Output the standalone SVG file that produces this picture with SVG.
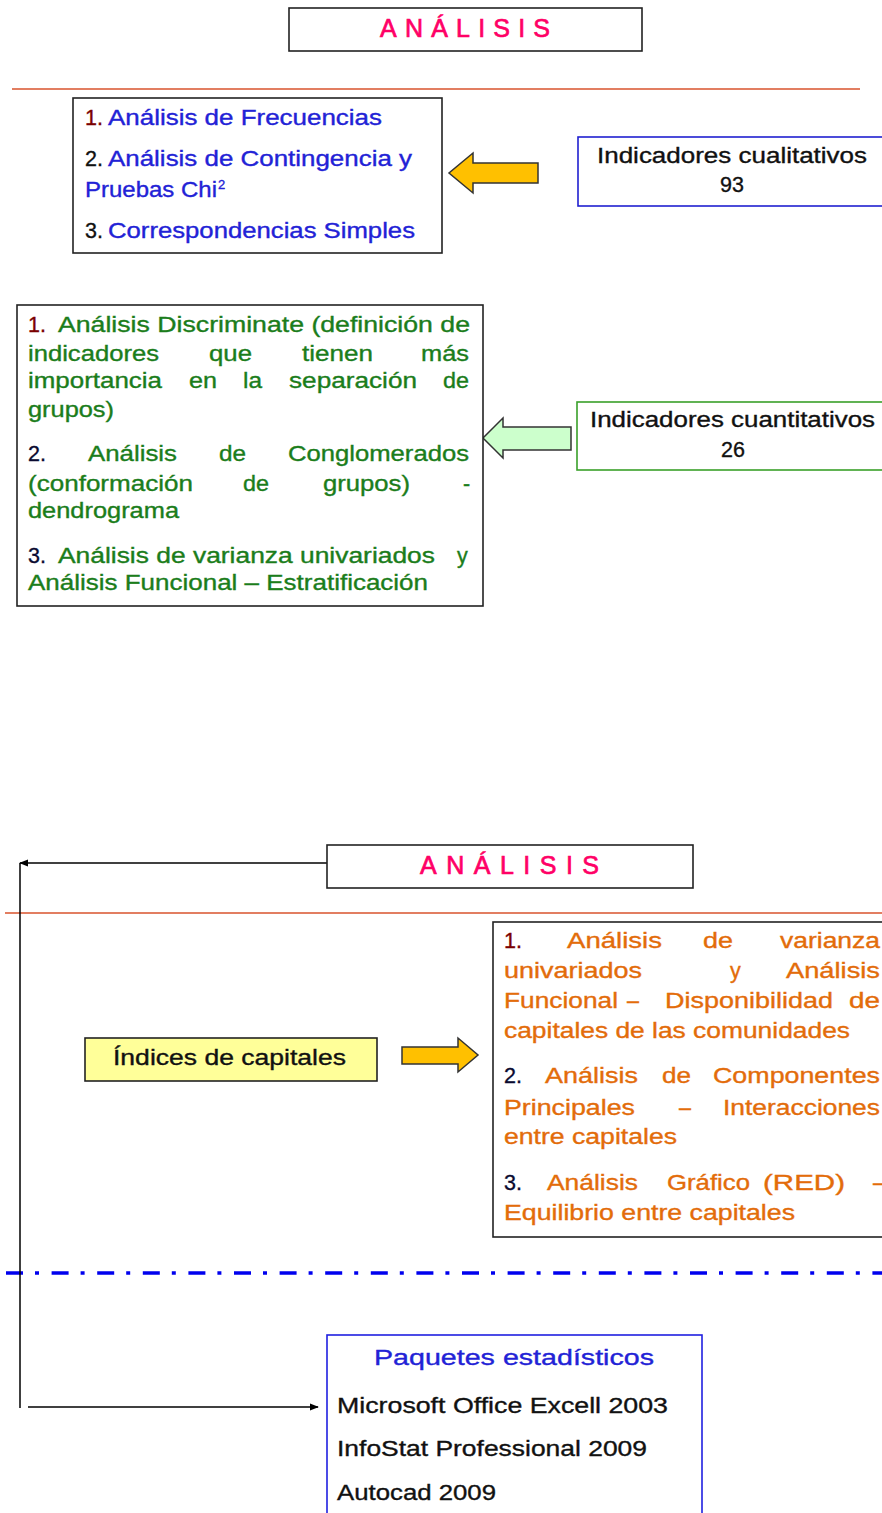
<svg xmlns="http://www.w3.org/2000/svg" width="882" height="1513" viewBox="0 0 882 1513">
<defs>
<style>
text{font-family:"Liberation Sans",Arial,sans-serif;font-size:21.5px;stroke-width:0.35px}
.box{fill:#fff;stroke:#222;stroke-width:1.6}
.title{font-size:25px;fill:#ff0066;stroke:#ff0066;stroke-width:0.7px}
.bl{fill:#2222d6;stroke:#2222d6}
.gr{fill:#1b7d1b;stroke:#1b7d1b}
.or{fill:#e36c0a;stroke:#e36c0a}
.n1{fill:#7a0000;stroke:#7a0000}
.n2{fill:#0a0a30;stroke:#0a0a30}
.k{fill:#111;stroke:#111}
.sep{stroke:#d9532c;stroke-width:1.6}
.conn{stroke:#000;stroke-width:1.5;fill:none}
</style>
<marker id="ah" viewBox="0 0 10 10" refX="9" refY="5" markerWidth="6" markerHeight="6" orient="auto-start-reverse">
<path d="M0,1 L10,5 L0,9 z" fill="#000"/>
</marker>
</defs>

<line class="sep" x1="12" y1="89" x2="860" y2="89"/>
<line class="sep" x1="5" y1="913" x2="882" y2="913"/>
<line x1="6" y1="1273" x2="882" y2="1273" stroke="#0000ee" stroke-width="3.6" stroke-dasharray="17 12 4 12.6"/>

<g id="connectors">
<polyline class="conn" points="327,863 20,863" marker-end="url(#ah)"/>
<line class="conn" x1="20" y1="863" x2="20" y2="1408"/>
<line class="conn" x1="28" y1="1407" x2="318" y2="1407" marker-end="url(#ah)"/>
<path id="arrow-yellow-1" d="M538,163 L473,163 L473,153 L449,173 L473,193 L473,183 L538,183 Z" fill="#ffc000" stroke="#333" stroke-width="1.5"/>
<path id="arrow-green" d="M571,427 L503,427 L503,418 L483,438 L503,458 L503,450 L571,450 Z" fill="#ccffcc" stroke="#333" stroke-width="1.5"/>
<path id="arrow-yellow-2" d="M402,1047 L458,1047 L458,1038 L478,1055 L458,1072 L458,1064 L402,1064 Z" fill="#ffc000" stroke="#333" stroke-width="1.5"/>
</g>

<g id="title1">
<rect class="box" x="289" y="8" width="353" height="43" stroke-width="2"/>
<text class="title" x="380" y="37" textLength="170" lengthAdjust="spacing">ANÁLISIS</text>
</g>

<g id="box-cualitativo-metodos">
<rect class="box" x="73" y="98" width="369" height="155"/>
<text class="n1" x="85" y="125">1.</text>
<text class="bl" x="108" y="125" textLength="274" lengthAdjust="spacingAndGlyphs">Análisis de Frecuencias</text>
<text class="k" x="85" y="166">2.</text>
<text class="bl" x="108" y="166" textLength="304" lengthAdjust="spacingAndGlyphs">Análisis de Contingencia y</text>
<text class="bl" x="85" y="197" textLength="132" lengthAdjust="spacingAndGlyphs">Pruebas Chi</text>
<text class="bl" x="218" y="189" style="font-size:13px">2</text>
<text class="k" x="85" y="238">3.</text>
<text class="bl" x="108" y="238" textLength="307" lengthAdjust="spacingAndGlyphs">Correspondencias Simples</text>
</g>

<g id="box-cualitativos">
<rect x="578" y="137" width="320" height="69" fill="#fff" stroke="#2020d0" stroke-width="1.6"/>
<text class="k" x="597" y="163" textLength="270" lengthAdjust="spacingAndGlyphs">Indicadores cualitativos</text>
<text class="k" x="732" y="192" text-anchor="middle">93</text>
</g>

<g id="box-cuantitativo-metodos">
<rect class="box" x="17" y="305" width="466" height="301"/>
<text class="n1" x="28" y="332">1.</text>
<text class="gr" x="58" y="332" textLength="412" lengthAdjust="spacingAndGlyphs">Análisis Discriminate (definición de</text>
<text class="gr" x="28" y="361" textLength="131" lengthAdjust="spacingAndGlyphs">indicadores</text>
<text class="gr" x="209" y="361" textLength="43" lengthAdjust="spacingAndGlyphs">que</text>
<text class="gr" x="302" y="361" textLength="71" lengthAdjust="spacingAndGlyphs">tienen</text>
<text class="gr" x="421" y="361" textLength="48" lengthAdjust="spacingAndGlyphs">más</text>
<text class="gr" x="28" y="388" textLength="134" lengthAdjust="spacingAndGlyphs">importancia</text>
<text class="gr" x="189" y="388" textLength="28" lengthAdjust="spacingAndGlyphs">en</text>
<text class="gr" x="243" y="388" textLength="19" lengthAdjust="spacingAndGlyphs">la</text>
<text class="gr" x="289" y="388" textLength="128" lengthAdjust="spacingAndGlyphs">separación</text>
<text class="gr" x="443" y="388" textLength="26" lengthAdjust="spacingAndGlyphs">de</text>
<text class="gr" x="28" y="417" textLength="86" lengthAdjust="spacingAndGlyphs">grupos)</text>
<text class="n2" x="28" y="461">2.</text>
<text class="gr" x="88" y="461" textLength="89" lengthAdjust="spacingAndGlyphs">Análisis</text>
<text class="gr" x="219" y="461" textLength="27" lengthAdjust="spacingAndGlyphs">de</text>
<text class="gr" x="288" y="461" textLength="181" lengthAdjust="spacingAndGlyphs">Conglomerados</text>
<text class="gr" x="28" y="491" textLength="165" lengthAdjust="spacingAndGlyphs">(conformación</text>
<text class="gr" x="243" y="491" textLength="26" lengthAdjust="spacingAndGlyphs">de</text>
<text class="gr" x="323" y="491" textLength="87" lengthAdjust="spacingAndGlyphs">grupos)</text>
<text class="gr" x="463" y="491">-</text>
<text class="gr" x="28" y="518" textLength="151" lengthAdjust="spacingAndGlyphs">dendrograma</text>
<text class="n2" x="28" y="563">3.</text>
<text class="gr" x="58" y="563" textLength="377" lengthAdjust="spacingAndGlyphs">Análisis de varianza univariados</text>
<text class="gr" x="457" y="563">y</text>
<text class="gr" x="28" y="590" textLength="400" lengthAdjust="spacingAndGlyphs">Análisis Funcional – Estratificación</text>
</g>

<g id="box-cuantitativos">
<rect x="577" y="402" width="320" height="68" fill="#fff" stroke="#3aa02a" stroke-width="1.6"/>
<text class="k" x="590" y="427" textLength="285" lengthAdjust="spacingAndGlyphs">Indicadores cuantitativos</text>
<text class="k" x="733" y="457" text-anchor="middle">26</text>
</g>

<g id="title2">
<rect class="box" x="327" y="845" width="366" height="43" stroke-width="2"/>
<text class="title" x="420" y="874" textLength="179" lengthAdjust="spacing">ANÁLISIS</text>
</g>

<g id="box-indices">
<rect x="85" y="1038" width="292" height="43" fill="#ffff99" stroke="#222" stroke-width="1.6"/>
<text class="k" x="113" y="1065" textLength="233" lengthAdjust="spacingAndGlyphs">Índices de capitales</text>
</g>

<g id="box-capitales-metodos">
<rect class="box" x="493" y="922" width="400" height="315"/>
<text class="n1" x="504" y="948">1.</text>
<text class="or" x="567" y="948" textLength="95" lengthAdjust="spacingAndGlyphs">Análisis</text>
<text class="or" x="703" y="948" textLength="30" lengthAdjust="spacingAndGlyphs">de</text>
<text class="or" x="780" y="948" textLength="100" lengthAdjust="spacingAndGlyphs">varianza</text>
<text class="or" x="504" y="978" textLength="138" lengthAdjust="spacingAndGlyphs">univariados</text>
<text class="or" x="730" y="978">y</text>
<text class="or" x="786" y="978" textLength="94" lengthAdjust="spacingAndGlyphs">Análisis</text>
<text class="or" x="504" y="1008" textLength="114" lengthAdjust="spacingAndGlyphs">Funcional</text>
<text class="or" x="627" y="1008">–</text>
<text class="or" x="665" y="1008" textLength="168" lengthAdjust="spacingAndGlyphs">Disponibilidad</text>
<text class="or" x="849" y="1008" textLength="31" lengthAdjust="spacingAndGlyphs">de</text>
<text class="or" x="504" y="1038" textLength="346" lengthAdjust="spacingAndGlyphs">capitales de las comunidades</text>
<text class="n2" x="504" y="1083">2.</text>
<text class="or" x="545" y="1083" textLength="93" lengthAdjust="spacingAndGlyphs">Análisis</text>
<text class="or" x="662" y="1083" textLength="29" lengthAdjust="spacingAndGlyphs">de</text>
<text class="or" x="713" y="1083" textLength="167" lengthAdjust="spacingAndGlyphs">Componentes</text>
<text class="or" x="504" y="1115" textLength="131" lengthAdjust="spacingAndGlyphs">Principales</text>
<text class="or" x="679" y="1115">–</text>
<text class="or" x="723" y="1115" textLength="157" lengthAdjust="spacingAndGlyphs">Interacciones</text>
<text class="or" x="504" y="1144" textLength="173" lengthAdjust="spacingAndGlyphs">entre capitales</text>
<text class="n2" x="504" y="1190">3.</text>
<text class="or" x="547" y="1190" textLength="91" lengthAdjust="spacingAndGlyphs">Análisis</text>
<text class="or" x="667" y="1190" textLength="83" lengthAdjust="spacingAndGlyphs">Gráfico</text>
<text class="or" x="763" y="1190" textLength="82" lengthAdjust="spacingAndGlyphs">(RED)</text>
<text class="or" x="873" y="1190">–</text>
<text class="or" x="504" y="1220" textLength="291" lengthAdjust="spacingAndGlyphs">Equilibrio entre capitales</text>
</g>

<g id="box-paquetes">
<rect x="327" y="1335" width="375" height="190" fill="#fff" stroke="#2020e0" stroke-width="1.6"/>
<text class="bl" x="374" y="1365" textLength="280" lengthAdjust="spacingAndGlyphs" style="font-size:22px">Paquetes estadísticos</text>
<text class="k" x="337" y="1413" textLength="331" lengthAdjust="spacingAndGlyphs" style="font-size:22px">Microsoft Office Excell 2003</text>
<text class="k" x="337" y="1456" textLength="310" lengthAdjust="spacingAndGlyphs" style="font-size:22px">InfoStat Professional 2009</text>
<text class="k" x="337" y="1500" textLength="159" lengthAdjust="spacingAndGlyphs" style="font-size:22px">Autocad 2009</text>
</g>
</svg>
